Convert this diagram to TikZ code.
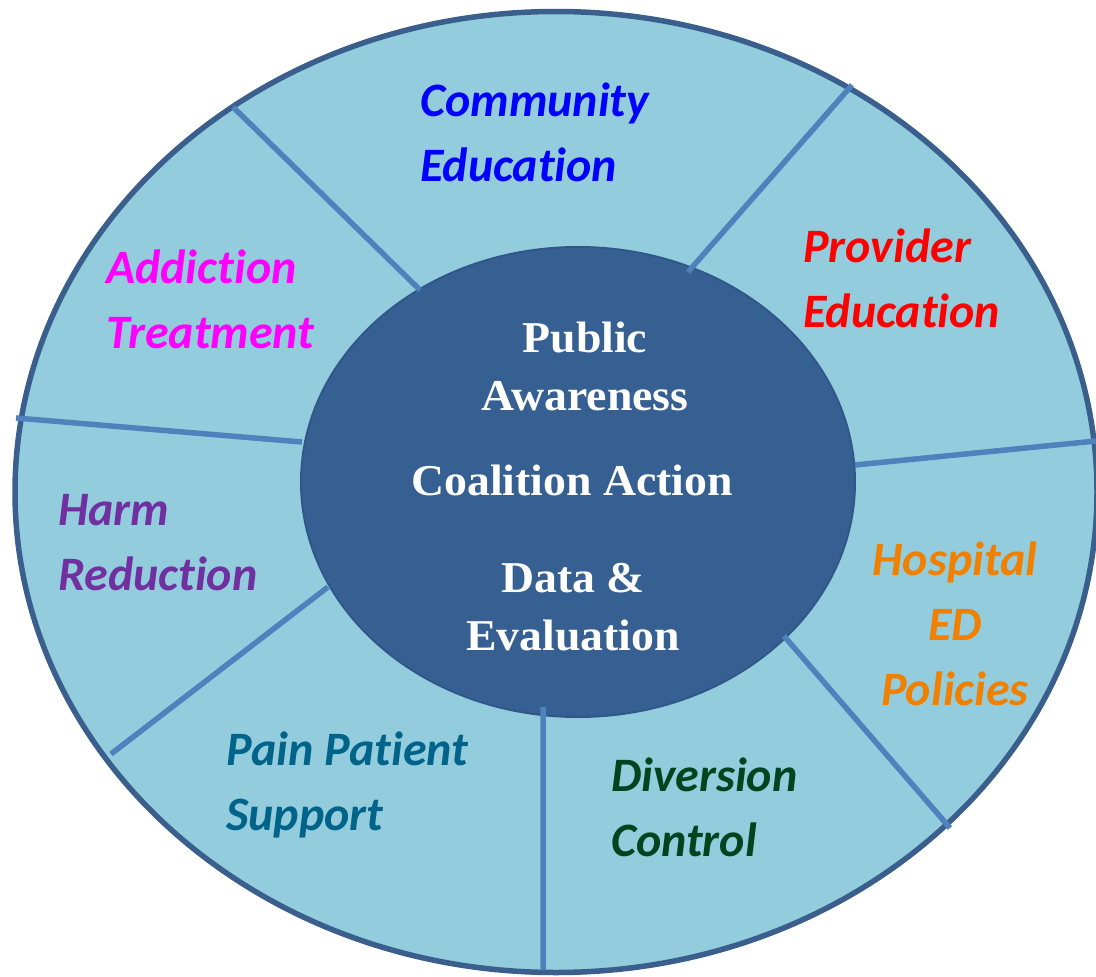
\documentclass[tikz,border=0pt]{standalone}
\usepackage{fontspec}
\newfontfamily\sectorfont{Carlito}[Ligatures=NoCommon]
\newfontfamily\hubfont{Liberation Serif}[FakeStretch=1.04]
\usetikzlibrary{shapes.geometric}
\definecolor{ringfill}{HTML}{93CDDD}
\definecolor{ringline}{HTML}{3A5F8C}
\definecolor{spokeblue}{HTML}{4F81BD}
\definecolor{hubfill}{HTML}{376092}
\definecolor{hubline}{HTML}{31578A}
\definecolor{commcol}{HTML}{0000FF}
\definecolor{provcol}{HTML}{FF0000}
\definecolor{hospcol}{HTML}{F08000}
\definecolor{divecol}{HTML}{00441F}
\definecolor{paincol}{HTML}{00638A}
\definecolor{harmcol}{HTML}{7030A0}
\definecolor{addicol}{HTML}{FF00FF}

\begin{document}
\begin{tikzpicture}[x=1pt,y=-1pt,
  sector/.style={inner sep=0pt,anchor=base west,align=left,
    font={\sectorfont\bfseries\itshape\fontsize{48}{65}\selectfont}},
  hubtext/.style={inner sep=0pt,anchor=base,align=center,text=white,
    font={\hubfont\bfseries\fontsize{44}{58}\selectfont}},
  spoke/.style={line width=5.5pt,draw=spokeblue}]
\useasboundingbox (0,0) rectangle (1096,977);
\node[draw=ringline,fill=ringfill,line width=5.5pt,ellipse,inner sep=0pt,minimum width=1082pt,minimum height=961pt] (ring) at (556,492) {};
\node[draw=hubline,fill=hubfill,line width=2pt,ellipse,inner sep=0pt,minimum width=554pt,minimum height=470pt] (hub) at (578,482) {};

% spokes, inner end then outer end
\coordinate (s1a) at (420,290); \coordinate (s1b) at (233,107);
\coordinate (s2a) at (688,272); \coordinate (s2b) at (852,85);
\coordinate (s3a) at (302,442); \coordinate (s3b) at (16,418);
\coordinate (s4a) at (855,465); \coordinate (s4b) at (1096,441);
\coordinate (s5a) at (328,587); \coordinate (s5b) at (111,754);
\coordinate (s6a) at (543,707); \coordinate (s6b) at (543,970);
\coordinate (s7a) at (784,636); \coordinate (s7b) at (950,828);
\path[spoke] (s1a) -- (s1b) (s2a) -- (s2b) (s3a) -- (s3b) (s4a) -- (s4b)
  (s5a) -- (s5b) (s6a) -- (s6b) (s7a) -- (s7b);

% base anchor sits on the last line
\node[hubtext] (aware) at (585,410) {Public\\Awareness};
\node[hubtext] (coalition) at (572,495) {Coalition Action};
\node[hubtext] (data) at (573,650) {Data \&\\Evaluation};

\node[sector,text=commcol] (comm) at (420,181) {Community\\Education};
\node[sector,text=provcol] (prov) at (803,327) {Provider\\Education};
\node[sector,text=hospcol,anchor=base,align=center] (hosp) at (955,705) {Hospital\\ED\\Policies};
\node[sector,text=divecol] (dive) at (611,856) {Diversion\\Control};
\node[sector,text=paincol] (pain) at (226,830) {Pain Patient\\Support};
\node[sector,text=harmcol] (harm) at (58,590) {Harm\\Reduction};
\node[sector,text=addicol] (addi) at (106,348) {Addiction\\Treatment};
\end{tikzpicture}
\end{document}
